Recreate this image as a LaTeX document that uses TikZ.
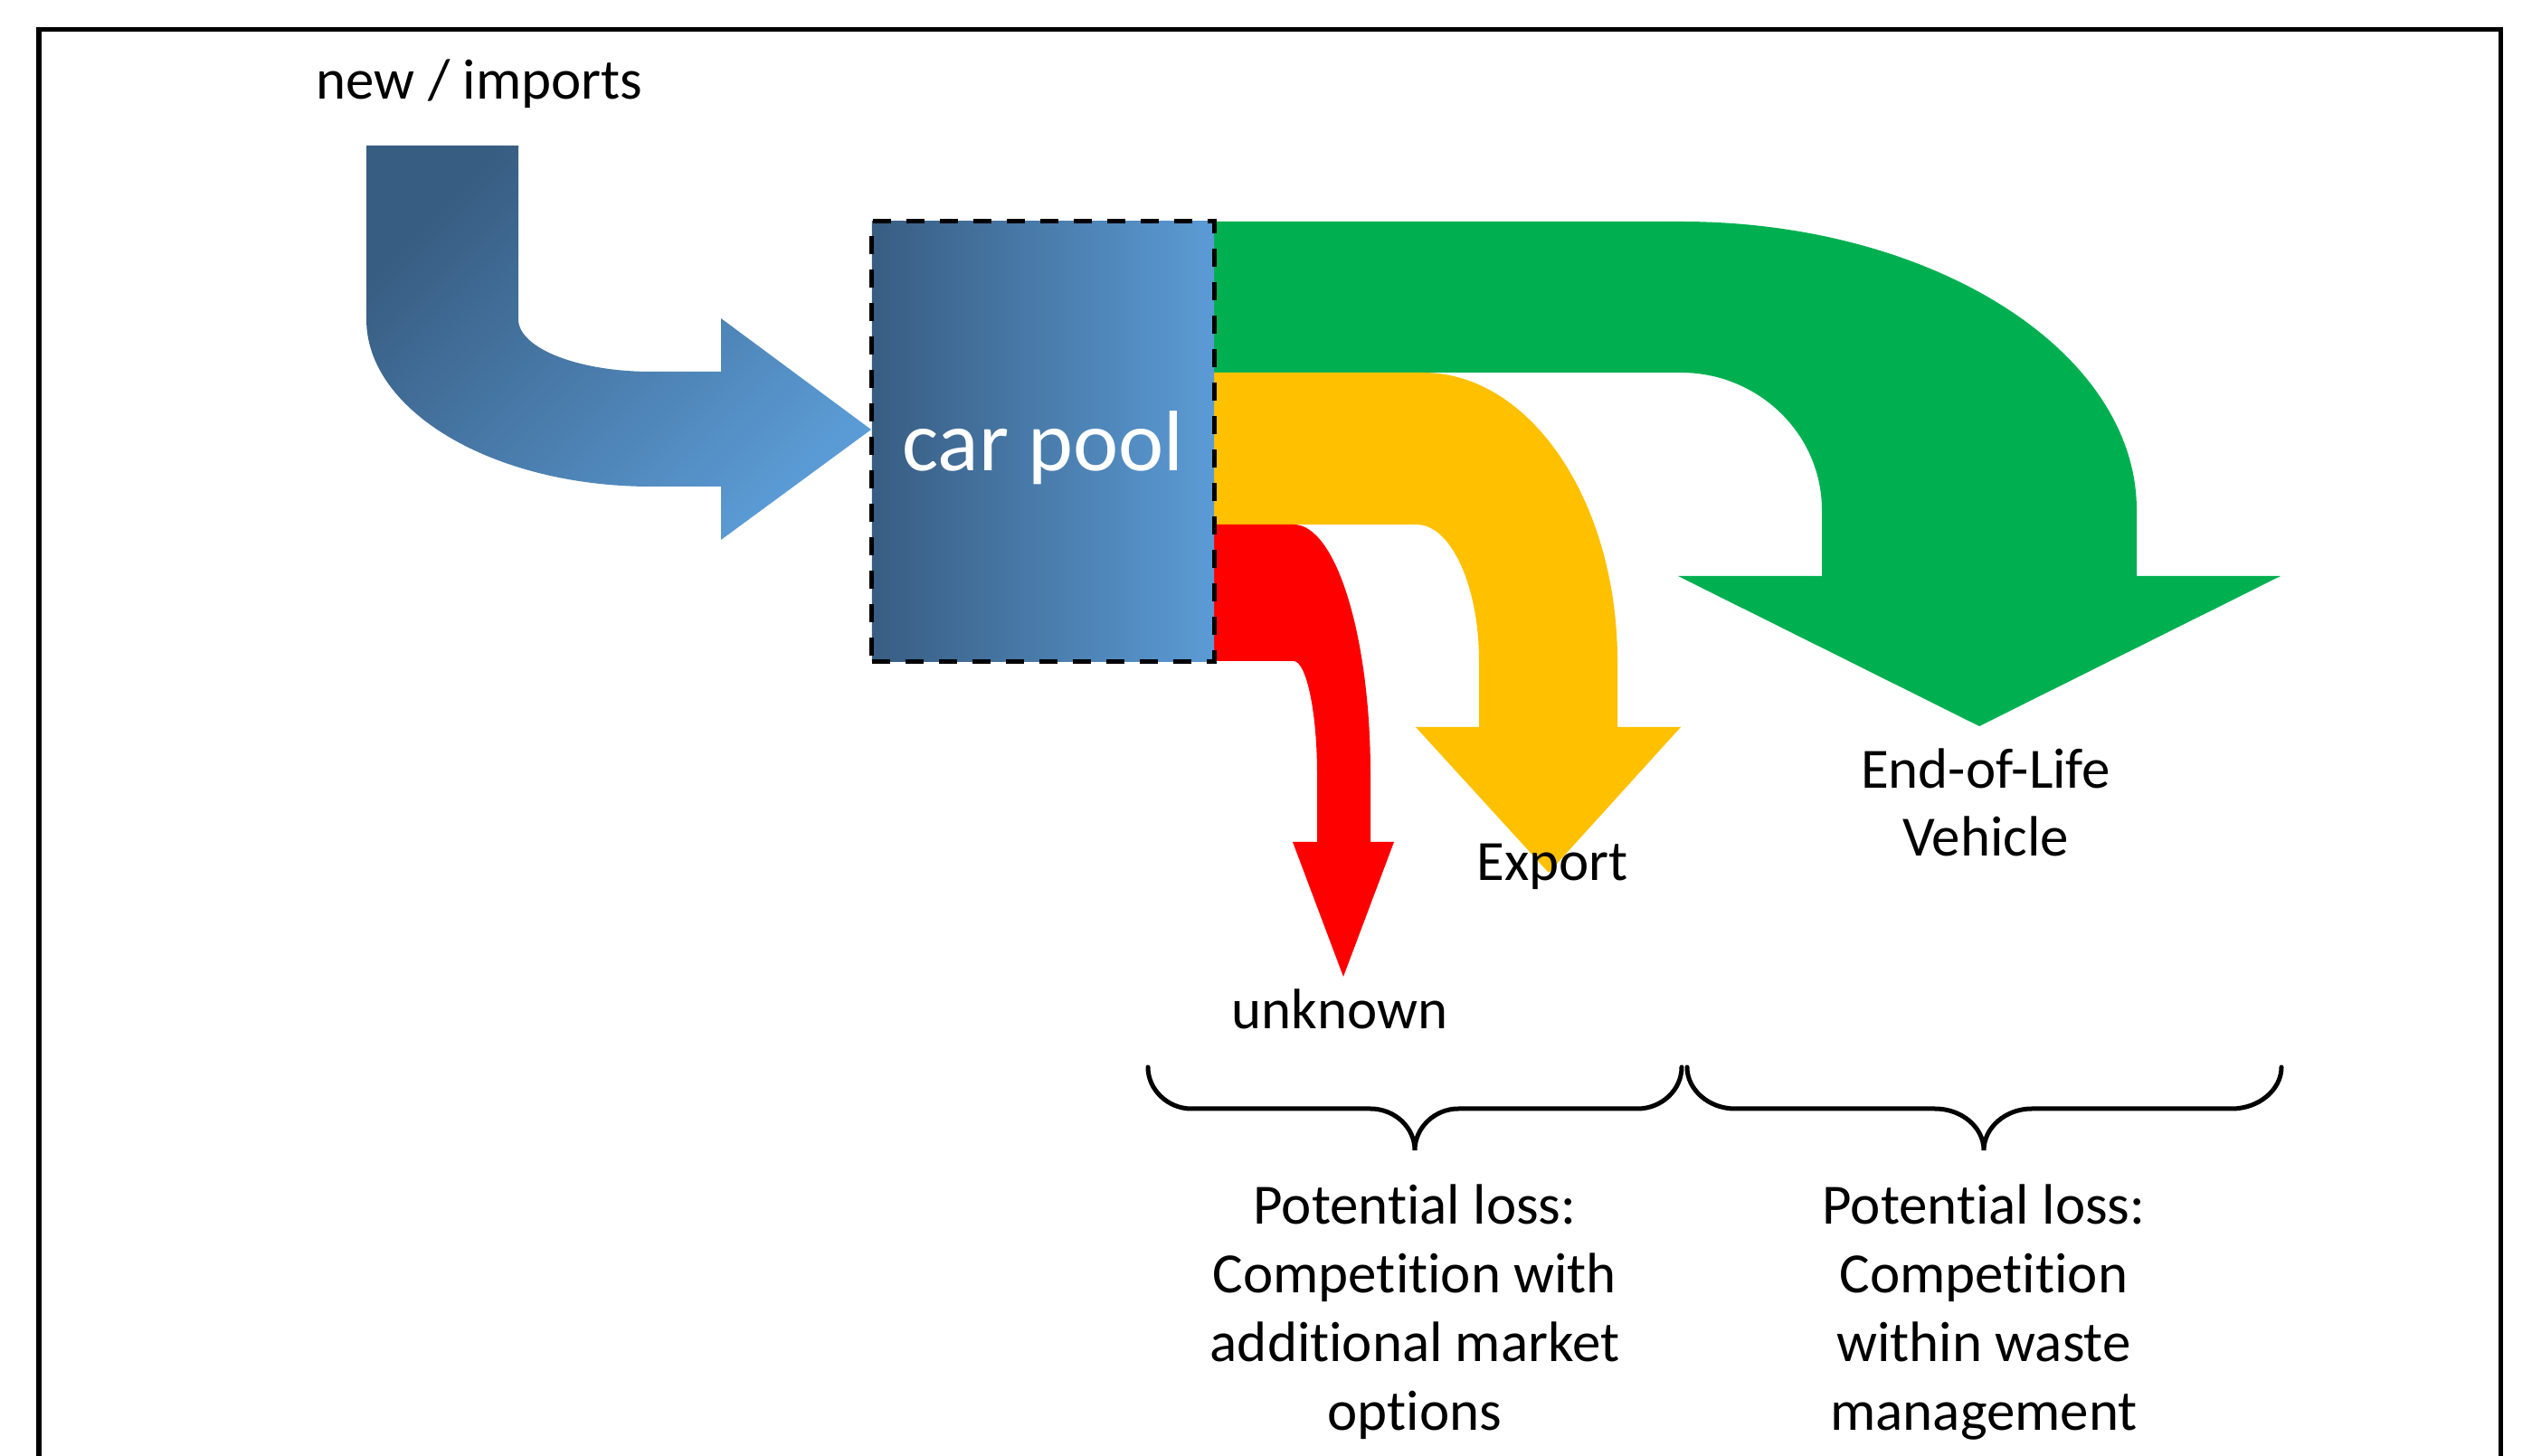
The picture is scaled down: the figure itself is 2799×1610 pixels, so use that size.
\documentclass[tikz,border=0pt]{standalone}
\usepackage{fontspec}
\setmainfont{Carlito}[Ligatures={NoCommon}]
\definecolor{bdark}{RGB}{56,93,130}
\definecolor{blight}{RGB}{91,155,213}
\definecolor{egreen}{RGB}{0,176,80}
\definecolor{eyellow}{RGB}{255,192,0}
\definecolor{ered}{RGB}{255,0,0}
\begin{document}
\begin{tikzpicture}[x=0.01cm,y=-0.01cm,
  lbl/.style={font=\fontsize{17.9}{21.6}\selectfont, inner sep=0pt, align=center, anchor=base},
  bracepath/.style={line width=0.05cm, line cap=round},
  framepath/.style={line width=0.05cm},
]
\useasboundingbox (0,0) rectangle (2799,1610);
% frame
\draw[framepath] (43,1610) -- (43,33) -- (2764,33) -- (2764,1610);

% incoming blue arrow
\shade[top color=bdark, bottom color=blight, shading angle=45]
  (405,161) -- (573,161) -- (573,353)
  .. controls (573,385) and (639,411) .. (720,411)
  -- (797,411) -- (797,352) -- (963,475) -- (797,597) -- (797,538) -- (720,538)
  .. controls (546,538) and (405,455) .. (405,353) -- cycle;

% green arrow (End-of-Life Vehicle)
\fill[egreen]
  (1342,245) -- (1858,245)
  .. controls (2136,245) and (2362,388) .. (2362,564)
  -- (2362,637) -- (2521,637) -- (2188,803) -- (1855,637) -- (2014,637) -- (2014,564)
  .. controls (2014,480) and (1944,412) .. (1858,412)
  -- (1342,412) -- cycle;

% yellow arrow (Export)
\fill[eyellow]
  (1342,412) -- (1573,412)
  .. controls (1692,412) and (1788,555) .. (1788,731)
  -- (1788,804) -- (1858,804) -- (1712,965) -- (1565,804) -- (1635,804) -- (1635,731)
  .. controls (1635,648) and (1604,580) .. (1566,580)
  -- (1342,580) -- cycle;

% red arrow (unknown)
\fill[ered]
  (1342,580) -- (1430,580)
  .. controls (1477,580) and (1515,704) .. (1515,856)
  -- (1515,931) -- (1541,931) -- (1485,1080) -- (1429,931) -- (1456,931) -- (1456,856)
  .. controls (1456,787) and (1444,731) .. (1430,731)
  -- (1342,731) -- cycle;

% car pool box
\node[minimum width=3.78cm, minimum height=4.86cm, inner sep=0pt,
      left color=bdark, right color=blight, draw=black, line width=0.05cm,
      dash pattern=on 0.2cm off 0.17cm] (pool) at (1153,488) {};
\node[font=\fontsize{27}{32}\selectfont, text=white, inner sep=0pt, anchor=base] (pooltxt) at (1153,521) {car pool};

% labels
\node[lbl] (newimp) at (530,110) {new / imports};
\node[lbl] (export) at (1716,974) {Export};
\node[lbl] (unknown) at (1481,1138) {unknown};
\node[lbl] (elv) at (2195,947) {End-of-Life\\Vehicle};

% braces
\draw[bracepath]
  (1269,1180) .. controls (1269,1205) and (1291,1226) .. (1317,1226)
  -- (1515,1226) .. controls (1542,1226) and (1564,1247) .. (1564,1272)
  .. controls (1564,1247) and (1586,1226) .. (1612,1226)
  -- (1810,1226) .. controls (1837,1226) and (1859,1205) .. (1859,1180);
\draw[bracepath]
  (1865,1180) .. controls (1865,1205) and (1889,1226) .. (1918,1226)
  -- (2139,1226) .. controls (2169,1226) and (2193,1247) .. (2193,1272)
  .. controls (2193,1247) and (2217,1226) .. (2246,1226)
  -- (2467,1226) .. controls (2497,1226) and (2522,1205) .. (2522,1180);

\node[lbl] (loss1) at (1564,1581) {Potential loss:\\Competition with\\additional market\\options};
\node[lbl] (loss2) at (2193,1581) {Potential loss:\\Competition\\within waste\\management};
\end{tikzpicture}
\end{document}
